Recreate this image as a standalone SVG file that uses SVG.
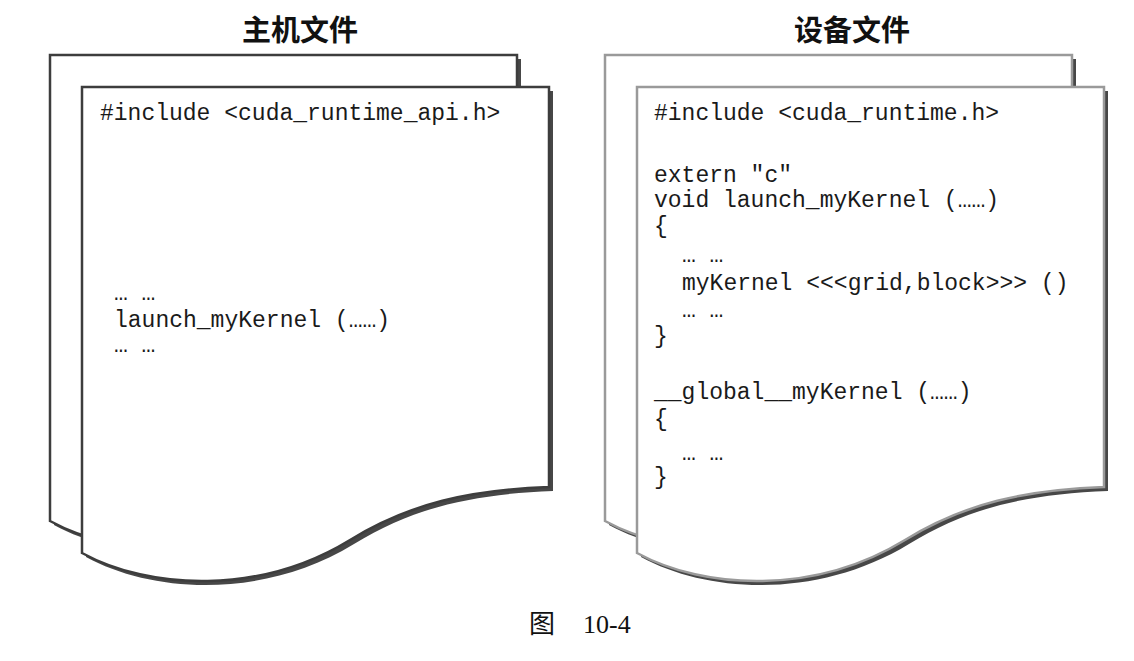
<svg xmlns="http://www.w3.org/2000/svg" xmlns:xlink="http://www.w3.org/1999/xlink" width="1134" height="661" viewBox="0 0 1134 661">
<style>
.shadow{fill:#474747;stroke:none}
.pageL{fill:#ffffff;stroke:#3d3d3d;stroke-width:2.5}
.pageR{fill:#ffffff;stroke:#9a9a9a;stroke-width:2.5}
.code{font-family:"Liberation Mono","Courier New",monospace;font-size:23px;fill:#1a1a1a}
.title{font-family:"Noto Sans CJK SC",sans-serif;font-size:29px;font-weight:bold;fill:#111;text-anchor:middle}
.cap{font-family:"Liberation Serif","Noto Sans CJK SC",serif;font-size:26px;fill:#111}
</style>
<defs>
<path id="doc" d="M0,0 H467 V400 C388,403 328,416 268,453 C178,508 68,503 0,466 Z"/>
</defs>
<rect width="1134" height="661" fill="#ffffff"/>

<g id="host-title"><text class="title" x="300" y="41">主机文件</text></g>
<g id="device-title"><text class="title" x="852" y="41">设备文件</text></g>

<g id="host-file-back">
<use xlink:href="#doc" class="shadow" transform="translate(54,59)"/>
<use xlink:href="#doc" class="pageL" transform="translate(50,55)"/>
</g>
<g id="host-file">
<use xlink:href="#doc" class="shadow" transform="translate(86,91)"/>
<use xlink:href="#doc" class="pageL" transform="translate(82,87)"/>
<text class="code" x="100" y="120">#include &lt;cuda_runtime_api.h&gt;</text>
<text class="code" x="114" y="300">… …</text>
<text class="code" x="114" y="327">launch_myKernel (……)</text>
<text class="code" x="114" y="352">… …</text>
</g>

<g id="device-file-back">
<use xlink:href="#doc" class="shadow" transform="translate(609,59)"/>
<use xlink:href="#doc" class="pageR" transform="translate(605,55)"/>
</g>
<g id="device-file">
<use xlink:href="#doc" class="shadow" transform="translate(641,91)"/>
<use xlink:href="#doc" class="pageR" transform="translate(637,87)"/>
<text class="code" x="654" y="120">#include &lt;cuda_runtime.h&gt;</text>
<text class="code" x="654" y="182">extern "c"</text>
<text class="code" x="654" y="207">void launch_myKernel (……)</text>
<text class="code" x="654" y="233">{</text>
<text class="code" x="682" y="262">… …</text>
<text class="code" x="682" y="290">myKernel &lt;&lt;&lt;grid,block&gt;&gt;&gt; ()</text>
<text class="code" x="682" y="317">… …</text>
<text class="code" x="654" y="343">}</text>
<text class="code" x="654" y="399">__global__myKernel (……)</text>
<text class="code" x="654" y="426">{</text>
<text class="code" x="682" y="460">… …</text>
<text class="code" x="654" y="484">}</text>
</g>

<g id="connectors"></g>

<g id="caption"><text class="cap" y="633"><tspan x="529">图</tspan><tspan x="583">10-4</tspan></text></g>
</svg>
